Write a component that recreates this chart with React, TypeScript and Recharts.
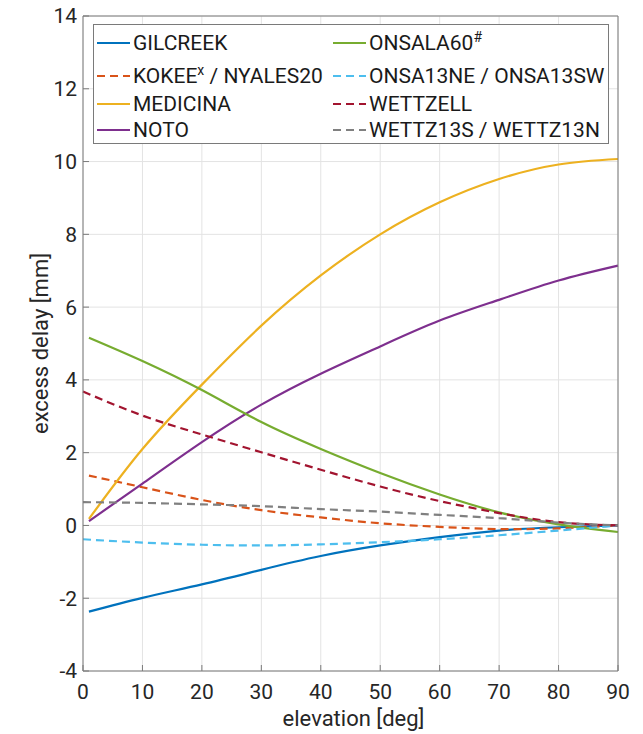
import { LineChart, Line, XAxis, YAxis, CartesianGrid } from 'recharts';

// elevation samples (deg); null where a curve has no reading
const elevation = [0, 1, 10, 20, 30, 40, 50, 60, 70, 80, 90];

const gilcreek = [null, -2.37, -1.99, -1.62, -1.22, -0.84, -0.55, -0.32, -0.14, -0.05, 0];
const kokee = [null, 1.37, 1.05, 0.7, 0.42, 0.22, 0.06, -0.04, -0.1, -0.08, 0];
const medicina = [null, 0.18, 2.1, 3.87, 5.49, 6.87, 8.0, 8.88, 9.52, 9.92, 10.07];
const noto = [null, 0.12, 1.15, 2.29, 3.32, 4.17, 4.92, 5.63, 6.2, 6.73, 7.14];
const onsala60 = [null, 5.16, 4.52, 3.72, 2.84, 2.1, 1.44, 0.85, 0.36, 0.03, -0.18];
const onsa13 = [-0.38, null, -0.47, -0.53, -0.55, -0.52, -0.46, -0.38, -0.27, -0.14, 0];
const wettzell = [3.68, null, 3.02, 2.5, 2.01, 1.53, 1.07, 0.67, 0.34, 0.09, 0];
const wettz13 = [0.64, null, 0.62, 0.58, 0.53, 0.45, 0.38, 0.29, 0.2, 0.08, 0];

const xTicks = [0, 10, 20, 30, 40, 50, 60, 70, 80, 90];
const yTicks = [-4, -2, 0, 2, 4, 6, 8, 10, 12, 14];

const series = [
  { key: 'gilcreek', values: gilcreek, color: '#0072BD', dashed: false },
  { key: 'kokee', values: kokee, color: '#D95319', dashed: true },
  { key: 'medicina', values: medicina, color: '#EDB120', dashed: false },
  { key: 'noto', values: noto, color: '#7E2F8E', dashed: false },
  { key: 'onsala60', values: onsala60, color: '#77AC30', dashed: false },
  { key: 'onsa13', values: onsa13, color: '#4DBEEE', dashed: true },
  { key: 'wettzell', values: wettzell, color: '#A2142F', dashed: true },
  { key: 'wettz13', values: wettz13, color: '#808080', dashed: true },
];

const data = elevation.map((el, i) => {
  const row: Record<string, number | null> = { el };
  series.forEach((s) => (row[s.key] = s.values[i]));
  return row;
});

const FONT = 'Roboto, sans-serif';
const TEXT = '#262626';
const AXIS = '#7a7a7a';
const DASH = '8 5';

const sup = (t: string) => (
  <span style={{ fontSize: 14, position: 'relative', top: -8 }}>{t}</span>
);

const legendCols = [
  [
    { color: '#0072BD', dashed: false, label: <>GILCREEK</> },
    { color: '#D95319', dashed: true, label: <>KOKEE{sup('x')} / NYALES20</> },
    { color: '#EDB120', dashed: false, label: <>MEDICINA</> },
    { color: '#7E2F8E', dashed: false, label: <>NOTO</> },
  ],
  [
    { color: '#77AC30', dashed: false, label: <>ONSALA60{sup('#')}</> },
    { color: '#4DBEEE', dashed: true, label: <>ONSA13NE / ONSA13SW</> },
    { color: '#A2142F', dashed: true, label: <>WETTZELL</> },
    { color: '#808080', dashed: true, label: <>WETTZ13S / WETTZ13N</> },
  ],
];
const rowY = [18, 51, 79, 105];
const colX = [3, 239];

function Legend() {
  return (
    <div
      style={{
        position: 'absolute', left: 93, top: 24, width: 514, height: 118,
        border: `1px solid ${AXIS}`, background: '#fff', fontFamily: FONT,
        fontSize: 21, color: '#1a1a1a',
      }}
    >
      {legendCols.map((col, ci) =>
        col.map((it, ri) => (
          <div
            key={`${ci}-${ri}`}
            style={{
              position: 'absolute', left: colX[ci], top: rowY[ri] - 14, height: 28,
              display: 'flex', alignItems: 'center', whiteSpace: 'nowrap',
            }}
          >
            <svg width={33} height={4} style={{ marginRight: 3 }}>
              <line x1={0} y1={2} x2={33} y2={2} stroke={it.color} strokeWidth={2.2}
                strokeDasharray={it.dashed ? DASH : undefined} />
            </svg>
            <span>{it.label}</span>
          </div>
        ))
      )}
    </div>
  );
}

const YLabel = (props: any) => {
  const { x, y, height } = props.viewBox;
  const cx = x + 40;
  const cy = y + height / 2;
  return (
    <text x={cx} y={cy} transform={`rotate(-90 ${cx} ${cy})`} textAnchor="middle"
      dominantBaseline="central" fill={TEXT} fontSize={22} fontFamily={FONT}>
      excess delay [mm]
    </text>
  );
};

const XLabel = (props: any) => {
  const { x, y, width } = props.viewBox;
  return (
    <text x={x + width / 2 + 3} y={y + 47} textAnchor="middle" dominantBaseline="central"
      fill={TEXT} fontSize={22} fontFamily={FONT}>
      elevation [deg]
    </text>
  );
};

export default function App() {
  return (
    <div style={{ position: 'absolute', left: 0, top: 0, width: 643, height: 734, background: '#fff' }}>
      <LineChart width={643} height={734} data={data}
        margin={{ top: 15, right: 24, bottom: 0, left: 0 }}>
        <CartesianGrid stroke="#e3e3e3" strokeWidth={1} />
        <XAxis dataKey="el" type="number" domain={[0, 90]} ticks={xTicks} height={63}
          stroke={AXIS} tickSize={-6} tickMargin={19}
          tick={{ fill: TEXT, fontSize: 21, fontFamily: FONT }}
          label={{ content: XLabel }} />
        <XAxis xAxisId="top" orientation="top" dataKey="el" type="number" domain={[0, 90]}
          ticks={xTicks} height={1} stroke={AXIS} tickSize={-6} tick={false} />
        <YAxis type="number" domain={[-4, 14]} ticks={yTicks} width={83}
          stroke={AXIS} tickSize={-6} tickMargin={12}
          tick={{ fill: TEXT, fontSize: 21, fontFamily: FONT }}
          label={{ content: YLabel }} />
        <YAxis yAxisId="right" orientation="right" type="number" domain={[-4, 14]}
          ticks={yTicks} width={1} stroke={AXIS} tickSize={-6} tick={false} />
        {series.map((s) => (
          <Line key={s.key} dataKey={s.key} type="natural" stroke={s.color}
            strokeWidth={2.2} dot={false} connectNulls isAnimationActive={false}
            strokeDasharray={s.dashed ? DASH : undefined} />
        ))}
      </LineChart>
      <Legend />
    </div>
  );
}
